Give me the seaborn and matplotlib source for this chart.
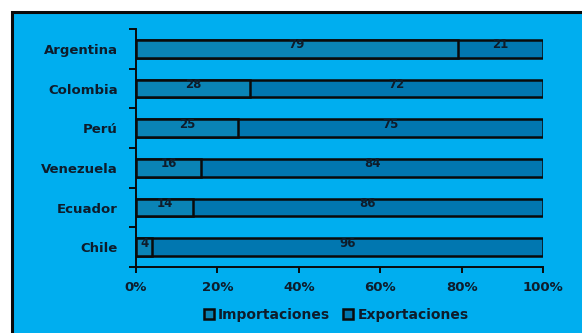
import numpy as np
import pandas as pd
import matplotlib
matplotlib.use("Agg")
import matplotlib.pyplot as plt
from matplotlib.patches import Rectangle, Patch
import seaborn as sns

# datos
paises = ["Argentina", "Colombia", "Perú", "Venezuela", "Ecuador", "Chile"]
importaciones = [79, 28, 25, 16, 14, 4]
exportaciones = [21, 72, 75, 84, 86, 96]
xticks_labels = ["0%", "20%", "40%", "60%", "80%", "100%"]

df = pd.DataFrame({"pais": paises, "imp": importaciones, "exp": exportaciones})
df["total"] = df["imp"] + df["exp"]

bg = "#00aeef"
c_imp = "#0a84b6"
c_exp = "#0177b0"
txt = "#0e1c2b"
negro = "#0a0a0a"

sns.set_style("white")
plt.rcParams["font.family"] = ["DejaVu Sans"]

fig = plt.figure(figsize=(5.82, 3.33), dpi=100)
fig.patch.set_facecolor("white")
# fondo azul con borde negro
fig.patches.append(Rectangle((12 / 582, -0.05), 1.2, 1 - 12 / 333 + 0.05,
                             transform=fig.transFigure, facecolor=bg,
                             edgecolor=negro, linewidth=2.2, zorder=-10))

ax = fig.add_axes([136 / 582, 1 - 267 / 333, 407 / 582, 238 / 333])
ax.set_facecolor("none")

sns.barplot(data=df, x="total", y="pais", color=c_exp, width=0.44,
            edgecolor=negro, linewidth=1.8, saturation=1, ax=ax)
sns.barplot(data=df, x="imp", y="pais", color=c_imp, width=0.44,
            edgecolor=negro, linewidth=1.8, saturation=1, ax=ax)

for i, (a, b) in enumerate(zip(importaciones, exportaciones)):
    ax.text(a / 2, i - 0.1, str(a), ha="center", va="center", fontsize=8.5,
            fontweight="bold", color=txt)
    ax.text(a + b / 2, i - 0.1, str(b), ha="center", va="center", fontsize=8.5,
            fontweight="bold", color=txt)

ax.set_xlim(0, 100)
ax.set_ylim(len(paises) - 0.5, -0.5)
ax.set_xticks(np.arange(0, 101, 20))
ax.set_xticklabels(xticks_labels, fontsize=9.5, fontweight="bold", color=txt)
ax.set_yticks(np.arange(-0.5, len(paises), 1))
ax.set_yticklabels([])
ax.set_yticks(np.arange(len(paises)), minor=True)
ax.set_yticklabels(paises, minor=True, fontsize=9.5, fontweight="bold", color=txt)
ax.tick_params(axis="y", which="major", left=True, length=5, width=1.4, color=negro, direction="out")
ax.tick_params(axis="y", which="minor", left=True, length=0, pad=13)
ax.tick_params(axis="x", bottom=True, length=4, width=1.4, color=negro, direction="out", pad=6)
ax.set_xlabel("")
ax.set_ylabel("")
for s in ["top", "right"]:
    ax.spines[s].set_visible(False)
for s in ["left", "bottom"]:
    ax.spines[s].set_color(negro)
    ax.spines[s].set_linewidth(1.4)

handles = [Patch(facecolor=c_imp, edgecolor=negro, linewidth=1.8, label="Importaciones"),
           Patch(facecolor=c_exp, edgecolor=negro, linewidth=1.8, label="Exportaciones")]
leg = fig.legend(handles=handles, loc="center", bbox_to_anchor=(336 / 582, 1 - 315 / 333),
                 ncol=2, frameon=False, handlelength=0.75, handleheight=0.75,
                 handletextpad=0.3, columnspacing=0.9,
                 prop={"size": 10, "weight": "bold"})
for t in leg.get_texts():
    t.set_color(txt)

fig.savefig("out.png", dpi=100)
